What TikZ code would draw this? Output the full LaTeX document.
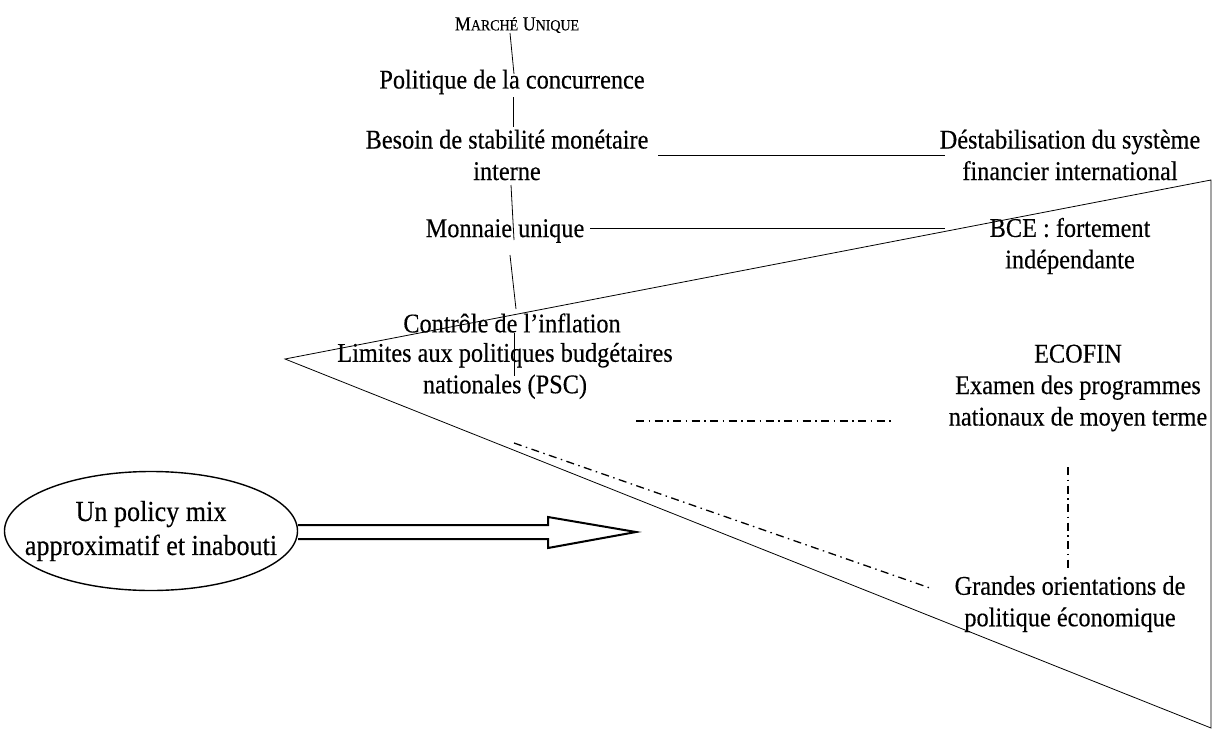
\documentclass[tikz,border=0pt]{standalone}
\usepackage{fontspec}
\setmainfont[FakeStretch=0.9,FakeBold=0.3]{Liberation Serif}
\usetikzlibrary{shapes.geometric,calc}
\begin{document}
\begin{tikzpicture}[x=1pt,y=-1pt,
  lbl/.style={align=center,font=\fontsize{27}{31.5}\selectfont,inner sep=0pt},
  conn/.style={line width=0.8pt},
  dd/.style={line width=1.3pt,dash pattern=on 8pt off 4.5pt on 1.5pt off 4.5pt},
  tri/.style={line width=0.8pt},
  bigarrow/.style={line width=2pt,line join=miter}]
\useasboundingbox (0,0) rectangle (1213,731);
% nodes
\node[lbl,font=\fontsize{20}{22}\selectfont] (mu) at (517,25) {M{\fontsize{15.5}{20}\selectfont ARCHÉ} U{\fontsize{15.5}{20}\selectfont NIQUE}};
\node[lbl] (pc) at (512,82) {Politique de la concurrence};
\node[lbl] (bs) at (507,155) {Besoin de stabilité monétaire\\interne};
\node[lbl] (mon) at (505,231) {Monnaie unique};
\node[lbl] (ci) at (512,323) {Contrôle de l’inflation};
\node[lbl] (lim) at (505,371) {Limites aux politiques budgétaires\\nationales (PSC)};
\node[lbl] (dest) at (1070,155) {Déstabilisation du système\\financier international};
\node[lbl] (bce) at (1070,246) {BCE : fortement\\indépendante};
\node[lbl] (eco) at (1078,388) {ECOFIN\\Examen des programmes\\nationaux de moyen terme};
\node[lbl] (gor) at (1070,604) {Grandes orientations de\\politique économique};
\node[lbl,font=\fontsize{29}{34}\selectfont] (ell) at (151,531) {Un policy mix\\approximatif et inabouti};
\draw[line width=1.4pt] (ell.center) ellipse [x radius=146.5, y radius=59.5];
\coordinate (ellE) at (298,532);
% triangle
\coordinate (tl) at (285,359);
\coordinate (tr) at (1211,180);
\coordinate (br) at (1211,728);
\draw[tri] (tl) -- (tr) -- (br) -- cycle;
% endpoints
\coordinate (muB) at (510,33);   \coordinate (pcT) at (514,74);
\coordinate (pcB) at (513,97);   \coordinate (bsT) at (513,127);
\coordinate (bsB) at (511,185);  \coordinate (monT) at (514,240);
\coordinate (monB) at (510,255); \coordinate (ciT) at (516,309);
\coordinate (ciB) at (514,333);  \coordinate (limT) at (514,376);
\coordinate (bsE) at (658,155);  \coordinate (destW) at (945,155);
\coordinate (monE) at (590,228); \coordinate (bceW) at (945,228);
\coordinate (limE) at (636,421); \coordinate (ecoW) at (893,421);
\coordinate (limS) at (514,443); \coordinate (gorW) at (930,588);
\coordinate (ecoS) at (1068,467);\coordinate (gorN) at (1068,572);
\draw[conn] (muB) -- (pcT);
\draw[conn] (pcB) -- (bsT);
\draw[conn] (bsB) -- (monT);
\draw[conn] (monB) -- (ciT);
\draw[conn] (ciB) -- (limT);
\draw[conn] (bsE) -- (destW);
\draw[conn] (monE) -- (bceW);
\draw[dd] (limE) -- (ecoW);
\draw[dd] (limS) -- (gorW);
\draw[dd] (ecoS) -- (gorN);
% big hollow arrow
\coordinate (tip) at (636,532);
\draw[bigarrow] ($(ellE)+(0,-7)$) -- (548,525) -- (548,517) -- (tip) -- (548,548) -- (548,539) -- ($(ellE)+(0,7)$);
\end{tikzpicture}
\end{document}
